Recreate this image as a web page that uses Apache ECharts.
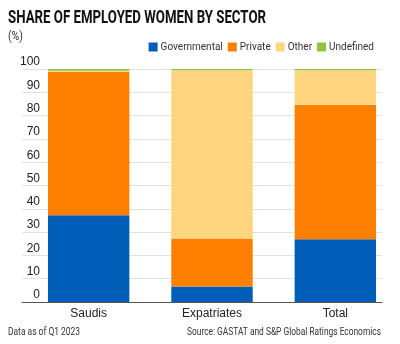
<!DOCTYPE html>
<html><head><meta charset="utf-8">
<script src="https://cdn.jsdelivr.net/npm/echarts@6/dist/echarts.min.js"></script>
<style>html,body{margin:0;padding:0;background:#fff}#c{width:400px;height:344px}</style>
</head><body><div id="c"></div>
<script>
const categories = ['Saudis', 'Expatriates', 'Total'];
const governmental = [37.2, 6.6, 26.9];
const privateSector = [61.6, 20.7, 57.8];
const other = [0.4, 72.2, 14.8];
const undefinedSector = [0.8, 0.5, 0.5];
const yTicks = [0, 10, 20, 30, 40, 50, 60, 70, 80, 90, 100];

const colors = ['#005EB8', '#FF8000', '#FFD580', '#8CC63F'];
const mctx = document.createElement('canvas').getContext('2d');
function scaleFor(text, font, w) { mctx.font = font; return w / mctx.measureText(text).width; }
function squeezed(text, font, x, y, w, color, align) {
  const sx = scaleFor(text, font, w);
  return {type: 'text', x: align === 'right' ? x - w : x, y: y, scaleX: sx, scaleY: 1, silent: true,
    style: {text: text, font: font, fill: color, textAlign: 'left', textVerticalAlign: 'middle'}};
}
const chart = echarts.init(document.getElementById('c'), null, {renderer: 'canvas'});
function s(name, data, i) {
  return {name, type: 'bar', stack: 'a', data, barWidth: '66%', xAxisIndex: 1, yAxisIndex: 1,
    itemStyle: {color: colors[i]}};
}
const titleFont = 'bold 19px Roboto';
const smallFont = '11px Roboto';
chart.setOption({
  animation: false,
  graphic: [
    squeezed('SHARE OF EMPLOYED WOMEN BY SECTOR', titleFont, 8, 18.5, 258, '#111'),
    squeezed('(%)', '12px Roboto', 8, 37, 15, '#333'),
    squeezed('Data as of Q1 2023', smallFont, 8, 332, 72, '#333'),
    squeezed('Source: GASTAT and S&P Global Ratings Economics', smallFont, 381, 332, 194, '#333', 'right')
  ],
  legend: {right: 21, top: 37, itemWidth: 9, itemHeight: 9, itemGap: 5, icon: 'rect',
    textStyle: {fontFamily: 'Roboto', fontSize: 10, color: '#333', padding: [0, 0, 0, -2]},
    data: ['Governmental', 'Private', 'Other', 'Undefined']},
  grid: [
    {left: 22, right: 18, top: 69, bottom: 42},
    {left: 27, right: 3, top: 69, bottom: 42}
  ],
  xAxis: [
    {type: 'category', gridIndex: 0, data: categories,
      axisLine: {lineStyle: {color: '#555', width: 1}}, axisTick: {show: false}, axisLabel: {show: false}},
    {type: 'category', gridIndex: 1, data: categories,
      axisLine: {show: false}, axisTick: {show: false},
      axisLabel: {fontFamily: '"Liberation Sans", Arial, sans-serif', fontSize: 12, color: '#222', margin: 6}}
  ],
  yAxis: [
    {type: 'value', gridIndex: 0, min: 0, max: 100, interval: 10,
      axisLine: {show: false}, axisTick: {show: false},
      splitLine: {lineStyle: {color: '#e2e2e2'}},
      axisLabel: {inside: true, align: 'right', margin: 18, verticalAlign: 'bottom', padding: [0, 0, 1, 0],
        fontFamily: '"Liberation Sans", Arial, sans-serif', fontSize: 12, color: '#222',
        formatter: v => yTicks.includes(v) ? String(v) : ''}},
    {type: 'value', gridIndex: 1, min: 0, max: 100, interval: 10, show: false, splitLine: {show: false}}
  ],
  series: [s('Governmental', governmental, 0), s('Private', privateSector, 1), s('Other', other, 2), s('Undefined', undefinedSector, 3)]
});
</script></body></html>
